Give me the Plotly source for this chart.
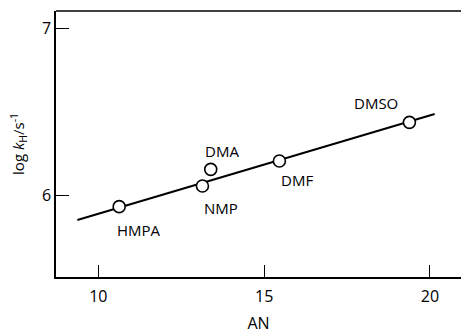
import plotly.graph_objects as go

solvents = ["HMPA", "NMP", "DMA", "DMF", "DMSO"]
an_values = [10.63, 13.14, 13.39, 15.46, 19.38]
log_kh = [5.93, 6.054, 6.154, 6.204, 6.436]

fit_an = [9.37, 20.14]
fit_logk = [5.85, 6.486]

x_ticks = [10, 15, 20]
y_ticks = [6, 7]

# label offsets in pixels (xshift, yshift)
label_offsets = {
    "HMPA": (20, -23),
    "NMP": (19, -22),
    "DMA": (11, 18),
    "DMF": (18, -19),
    "DMSO": (-33, 19),
}

font_family = "Open Sans, DejaVu Sans, sans-serif"

fig = go.Figure()
fig.add_trace(go.Scatter(x=fit_an, y=fit_logk, mode="lines",
                         line=dict(color="black", width=2), showlegend=False,
                         hoverinfo="skip"))
fig.add_trace(go.Scatter(x=an_values, y=log_kh, mode="markers",
                         marker=dict(size=12, color="white",
                                     line=dict(color="black", width=1.6)),
                         showlegend=False))

for name, xv, yv in zip(solvents, an_values, log_kh):
    dx, dy = label_offsets[name]
    fig.add_annotation(x=xv, y=yv, text=name, showarrow=False,
                       xshift=dx, yshift=dy,
                       font=dict(family=font_family, size=15, color="black"))

fig.add_shape(type="line", xref="paper", yref="paper", x0=0, x1=1, y0=1, y1=1,
              line=dict(color="black", width=1.5))

fig.add_annotation(xref="paper", yref="paper", x=-0.094, y=0.5,
                   text="log <i>k</i><sub>H</sub>/s<sup>-1</sup>",
                   textangle=-90, showarrow=False, xanchor="center", yanchor="middle",
                   font=dict(family=font_family, size=15, color="black"))

fig.update_layout(
    width=461, height=335,
    margin=dict(l=56, r=0, t=11, b=58),
    plot_bgcolor="white", paper_bgcolor="white",
    font=dict(family=font_family, size=16, color="black"),
    xaxis=dict(range=[8.725, 20.935], tickvals=x_ticks, ticks="inside", ticklen=12,
               tickwidth=1.3, tickcolor="black", showline=True, linecolor="black",
               linewidth=1.5, showgrid=False, zeroline=False,
               tickfont=dict(size=16), ticklabelstandoff=4,
               title=dict(text="AN", standoff=12, font=dict(size=16))),
    yaxis=dict(range=[5.508, 7.104], tickvals=y_ticks, ticks="inside", ticklen=13,
               tickwidth=1.3, tickcolor="black", showline=True, linecolor="black",
               linewidth=1.5, showgrid=False, zeroline=False,
               tickfont=dict(size=16)),
)

fig.write_html("out.html", config={"displayModeBar": False},
               post_script="document.body.style.margin='0';")
